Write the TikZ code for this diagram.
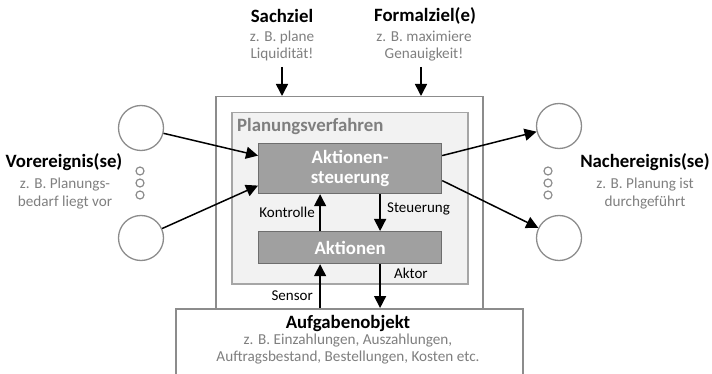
\documentclass[tikz,border=0pt]{standalone}
\usepackage{fontspec}
\setmainfont{Carlito}
\usetikzlibrary{arrows.meta,calc}
\definecolor{framegray}{HTML}{8C8C8C}
\definecolor{innerfill}{HTML}{F2F2F2}
\definecolor{innerdraw}{HTML}{A6A6A6}
\definecolor{boxfill}{HTML}{A0A0A0}
\definecolor{boxdraw}{HTML}{6E6E6E}
\definecolor{subtext}{HTML}{7F7F7F}
\tikzset{
  arr/.style={line width=1.5pt,-{Triangle[length=12pt,width=12pt]}},
  rbox/.style={rectangle,inner sep=0pt,anchor=north west},
  actbox/.style={rbox,draw=boxdraw,fill=boxfill,line width=1.2pt},
  evt/.style={circle,draw=framegray,line width=1.3pt,minimum size=45pt,inner sep=0pt},
  dotc/.style={circle,draw=framegray,line width=1.2pt,minimum size=8pt,inner sep=0pt},
  ttl/.style={font=\fontsize{18.8}{20}\selectfont\bfseries,inner sep=0pt},
  wttl/.style={text=white,font=\fontsize{18.8}{20}\selectfont\bfseries,align=center,inner sep=0pt},
  sub/.style={font=\fontsize{15.2}{17.8}\selectfont,text=subtext,align=center,inner sep=0pt},
  lbl/.style={font=\fontsize{15}{18}\selectfont,inner sep=0pt},
}
\begin{document}
\begin{tikzpicture}[x=1pt,y=-1pt]
\useasboundingbox (0,0) rectangle (712,374);
\begin{scope}
\clip (0,0) rectangle (712,374);
% outer frame
\node[rbox,draw=framegray,line width=1.5pt,fill=white,minimum width=267pt,minimum height=230pt] (outer) at (215,96) {};
% inner Planungsverfahren
\node[rbox,draw=innerdraw,fill=innerfill,line width=1.5pt,minimum width=236pt,minimum height=171pt] (inner) at (231,112) {};
\node[anchor=west,inner sep=0pt,text=subtext,font=\fontsize{18.8}{20}\selectfont\bfseries] (pv) at (237,126) {Planungsverfahren};
% action boxes
\node[actbox,minimum width=183pt,minimum height=50pt] (steu) at (258,143) {};
\node[wttl] (steut) at (steu.center) {Aktionen-\\steuerung};
\node[actbox,minimum width=183pt,minimum height=32pt] (akt) at (258,231) {};
\node[wttl] (aktt) at (akt.center) {Aktionen};
% Aufgabenobjekt
\node[rbox,draw=framegray,line width=1.5pt,fill=white,minimum width=347pt,minimum height=90pt] (auf) at (175,308) {};
\end{scope}
\node[ttl] (auft) at (348,323) {Aufgabenobjekt};
\node[sub] (aufs1) at (348,341) {z. B. Einzahlungen, Auszahlungen,};
\node[sub] (aufs2) at (348,358) {Auftragsbestand, Bestellungen, Kosten etc.};
% goals
\node[ttl] (sach) at (282,16) {Sachziel};
\node[sub] (sachs) at (282,46) {z. B. plane\\Liquidität!};
\node[ttl] (form) at (425,16) {Formalziel(e)};
\node[sub] (forms) at (424,46) {z. B. maximiere\\Genauigkeit!};
\coordinate (sachA) at (282,67);
\coordinate (formA) at (421,67);
\draw[arr] (sachA) -- (sachA |- outer.north);
\draw[arr] (formA) -- (formA |- outer.north);
% events
\node[evt] (cL1) at (141,128) {};
\node[evt] (cL2) at (141,238) {};
\node[evt] (cR1) at (559,126) {};
\node[evt] (cR2) at (559,238) {};
\node[dotc] (dl1) at (140,171) {};
\node[dotc] (dl2) at (140,183) {};
\node[dotc] (dl3) at (140,195) {};
\node[dotc] (dr1) at (548,171) {};
\node[dotc] (dr2) at (548,183) {};
\node[dotc] (dr3) at (548,195) {};
\node[ttl] (vor) at (64,162) {Vorereignis(se)};
\node[sub] (vors) at (65,193.5) {z. B. Planungs-\\bedarf liegt vor};
\node[ttl] (nach) at (645,162) {Nachereignis(se)};
\node[sub] (nachs) at (645,193.5) {z. B. Planung ist\\durchgeführt};
% connectors
\draw[arr] (cL1) -- ([yshift=13pt]steu.west);
\draw[arr] (cL2) -- ([yshift=-17pt]steu.west);
\draw[arr] ([yshift=13pt]steu.east) -- (cR1);
\draw[arr] ([yshift=-12pt]steu.east) -- (cR2);
\draw[arr] ([xshift=-30pt]akt.north) -- ([xshift=-30pt]steu.south);
\draw[arr] ([xshift=30pt]steu.south) -- ([xshift=30pt]akt.north);
\draw[arr] ([xshift=-30pt]akt.south |- auf.north) -- ([xshift=-30pt]akt.south);
\draw[arr] ([xshift=30pt]akt.south) -- ([xshift=30pt]akt.south |- auf.north);
% labels
\node[lbl,anchor=east] (kon) at (315,212) {Kontrolle};
\node[lbl,anchor=west] (steul) at (387,209) {Steuerung};
\node[lbl,anchor=east] (sen) at (313,296) {Sensor};
\node[lbl,anchor=west] (aktor) at (394,273) {Aktor};
\end{tikzpicture}
\end{document}
